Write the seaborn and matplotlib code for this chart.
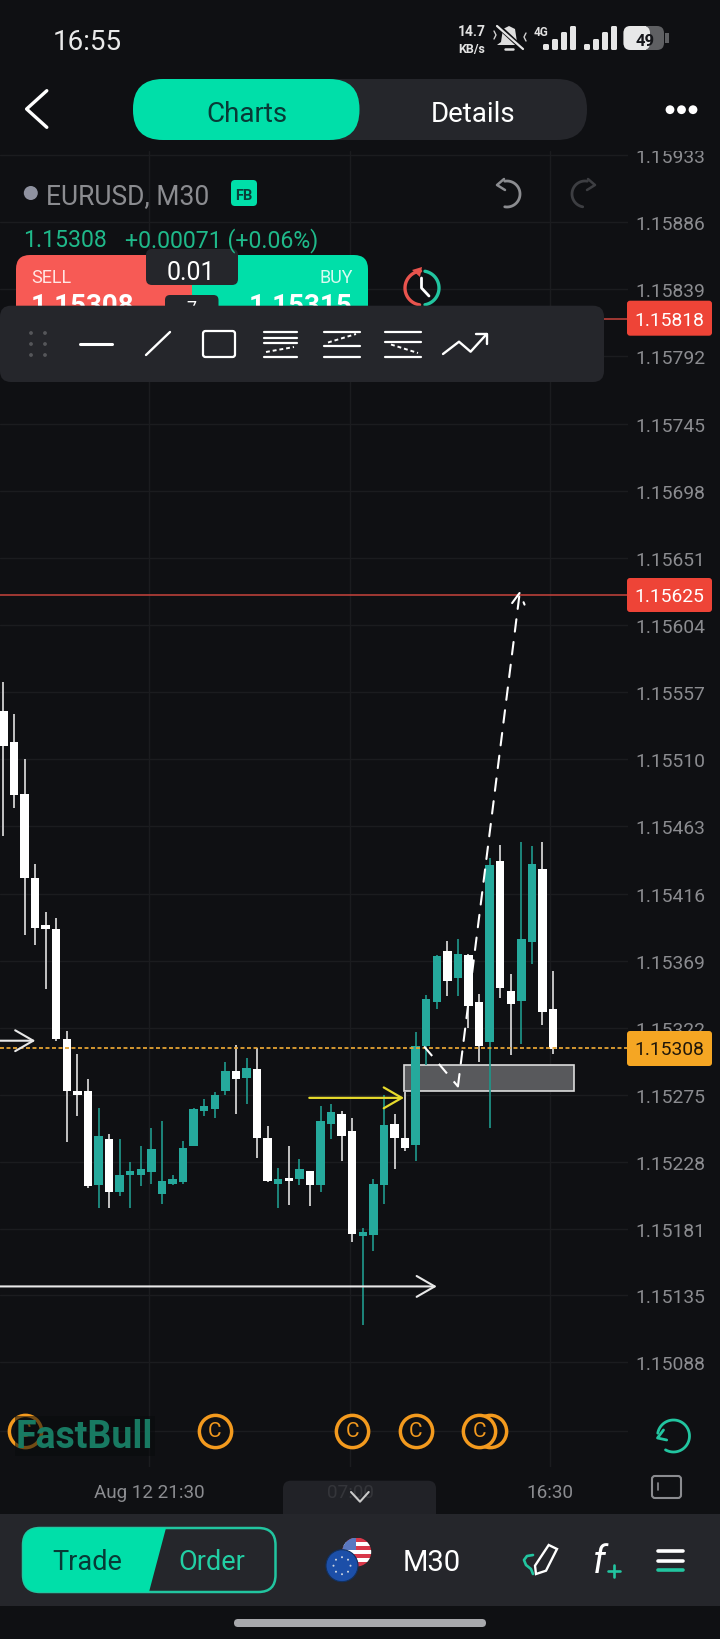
import numpy as np
import pandas as pd
import seaborn as sns
import matplotlib
matplotlib.use("Agg")
import matplotlib.pyplot as plt
from matplotlib.patches import FancyBboxPatch, Polygon, Rectangle, Circle

# candles, oldest first
highs = [1.15564,1.15542,1.15510,1.15437,1.15403,1.15399,1.15320,1.15304,1.15286,1.15266,
         1.15248,1.15244,1.15228,1.15239,1.15252,1.15257,1.15219,1.15243,1.15266,1.15272,
         1.15277,1.15298,1.15310,1.15301,1.15308,1.15253,1.15224,1.15239,1.15230,1.15222,
         1.15267,1.15269,1.15264,1.15259,1.15182,1.15216,1.15275,1.15262,1.15277,1.15319,
         1.15345,1.15373,1.15383,1.15384,1.15374,1.15346,1.15441,1.15450,1.15360,1.15452,
         1.15449,1.15452,1.15362]
lows = [1.15456,1.15476,1.15387,1.15380,1.15349,1.15313,1.15242,1.15260,1.15210,1.15196,
        1.15196,1.15204,1.15196,1.15211,1.15213,1.15199,1.15212,1.15213,1.15239,1.15260,
        1.15259,1.15275,1.15262,1.15269,1.15231,1.15214,1.15196,1.15198,1.15212,1.15197,
        1.15207,1.15244,1.15229,1.15172,1.15114,1.15166,1.15199,1.15223,1.15236,1.15229,
        1.15296,1.15335,1.15344,1.15344,1.15322,1.15298,1.15252,1.15343,1.15303,1.15311,
        1.15367,1.15324,1.15304]
opens = [1.15544,1.15522,1.15486,1.15427,1.15394,1.15391,1.15314,1.15278,1.15278,1.15212,
         1.15244,1.15207,1.15219,1.15219,1.15221,1.15206,1.15213,1.15214,1.15239,1.15264,
         1.15265,1.15278,1.15292,1.15287,1.15293,1.15245,1.15213,1.15217,1.15216,1.15222,
         1.15212,1.15255,1.15262,1.15250,1.15176,1.15177,1.15212,1.15255,1.15245,1.15240,
         1.15309,1.15340,1.15376,1.15357,1.15373,1.15340,1.15312,1.15439,1.15348,1.15341,
         1.15382,1.15433,1.15335]
closes = [1.15519,1.15485,1.15427,1.15392,1.15391,1.15314,1.15278,1.15275,1.15211,1.15246,
          1.15207,1.15219,1.15222,1.15223,1.15237,1.15215,1.15216,1.15238,1.15265,1.15267,
          1.15275,1.15292,1.15286,1.15294,1.15245,1.15215,1.15216,1.15215,1.15223,1.15212,
          1.15257,1.15263,1.15246,1.15178,1.15179,1.15213,1.15254,1.15245,1.15238,1.15309,
          1.15342,1.15372,1.15355,1.15374,1.15337,1.15309,1.15436,1.15350,1.15339,1.15384,
          1.15437,1.15333,1.15307]

price_ticks = [1.15933,1.15886,1.15839,1.15792,1.15745,1.15698,1.15651,1.15604,1.15557,1.15510,
               1.15463,1.15416,1.15369,1.15322,1.15275,1.15228,1.15181,1.15135,1.15088,1.15040]
price_labels = ["1.15933","1.15886","1.15839","1.15792","1.15745","1.15698","1.15651","1.15604",
                "1.15557","1.15510","1.15463","1.15416","1.15369","1.15322","1.15275","1.15228",
                "1.15181","1.15135","1.15088",""]
time_ticks = [13.78, 32.82, 51.74]
time_labels = ["Aug 12 21:30", "07:00", "16:30"]

last_price = 1.15308
ask_price = 1.15818
level_price = 1.15625
zone_low = 1.15278
zone_high = 1.15296
zone_start = 37.92
zone_end = 54.0
events = [2, 20, 33, 39, 45, 46]
event_price = 1.15040

BG = "#0f1013"
PANEL = "#25262b"
GREEN = "#00dfa9"
DARKGREEN = "#083a36"
TEAL = "#25a99c"
TEALWICK = "#1f9488"
RED = "#f75a55"
TAG = "#ee4437"
ORANGE = "#f39a1e"
GREY = "#8b8c90"
GRID = "#1b1c1f"

sns.set_theme(style="dark", rc={"axes.facecolor": BG, "figure.facecolor": BG,
                                "axes.grid": True, "grid.color": GRID, "grid.linewidth": 1.0,
                                "xtick.color": GREY, "ytick.color": GREY})
plt.rcParams["font.family"] = ["Roboto", "DejaVu Sans"]

W, H = 720, 1640
fig = plt.figure(figsize=(W / 100, H / 100), dpi=100)

# chart area runs from y=152 to y=1468 in the picture, x=0 to x=628
ax = fig.add_axes([0, 1 - 1468 / H, 628 / W, (1468 - 152) / H])

df = pd.DataFrame({"i": range(len(opens)), "open": opens, "high": highs, "low": lows, "close": closes})
df["top"] = df[["open", "close"]].max(axis=1)
df["bot"] = df[["open", "close"]].min(axis=1)
df["body"] = df["top"] - df["bot"]
up = df[df["close"] > df["open"]]
down = df[df["close"] <= df["open"]]

ax.vlines(up["i"], up["low"], up["high"], color=TEALWICK, lw=1.25, zorder=2.5)
ax.vlines(down["i"], down["low"], down["high"], color="#d9d9d9", lw=1.25, zorder=2.5)
sns.barplot(data=up, x="i", y="body", bottom=up["bot"].values, native_scale=True, color=TEAL,
            saturation=1, errorbar=None, width=0.8, linewidth=0, zorder=3, ax=ax)
sns.barplot(data=down, x="i", y="body", bottom=down["bot"].values, native_scale=True, color="white",
            saturation=1, errorbar=None, width=0.8, linewidth=0, zorder=3, ax=ax)

ax.set_xlim(-0.322, 59.09)
ax.set_ylim(1.150146, 1.159358)
ax.set_xlabel("")
ax.set_ylabel("")
ax.yaxis.tick_right()
ax.set_yticks(price_ticks)
ax.set_yticklabels(price_labels, fontsize=13.9)
ax.set_xticks(time_ticks)
ax.set_xticklabels(time_labels, fontsize=13.6)
ax.tick_params(axis="y", length=0, pad=5)
ax.tick_params(axis="x", length=0, pad=11.5)
ax.grid(True, color=GRID, lw=1.0)
ax.set_axisbelow(True)
sns.despine(ax=ax, left=True, right=True, top=True, bottom=True)

# levels, zone and drawings
ax.axhline(level_price, color="#c8433c", lw=1.1, zorder=2)
ax.axhline(ask_price, color="#c8433c", lw=1.1, zorder=2)
ax.axhline(last_price, color="#e3a233", lw=1.3, ls=(0, (2.2, 1.4)), zorder=4)
ax.add_patch(Rectangle((zone_start, zone_low), zone_end - zone_start, zone_high - zone_low,
                       facecolor="#58595c", edgecolor="#dcdcdc", lw=1.2, zorder=2))


def arrow(x0, y0, x1, y1, color, lw, hl, hw, ls="-"):
    ax.annotate("", xy=(x1, y1), xytext=(x0, y0), zorder=5,
                arrowprops=dict(arrowstyle="->,head_length=%s,head_width=%s" % (hl, hw), color=color,
                                lw=lw, ls=ls, shrinkA=0, shrinkB=0, mutation_scale=1))


arrow(-0.32, 1.15141, 41.0, 1.15141, "#e8e8e8", 1.5, 13, 7.5)
arrow(-0.32, 1.15313, 3.02, 1.15313, "#e8e8e8", 1.5, 13, 7.5)
arrow(28.94, 1.15273, 37.9, 1.15273, "#e6da2c", 1.6, 13, 7.5)
ax.plot([39.8, 43.0], [1.15309, 1.15281], color="white", lw=1.5, ls=(0, (6, 5)), zorder=5)
arrow(43.0, 1.15281, 48.87, 1.15628, "white", 1.5, 8, 4.5, ls=(0, (6, 5)))

# economic calendar markers, earlier ones sit on top of later ones
for n, e in enumerate(reversed(events)):
    sns.scatterplot(x=[e], y=[event_price], s=540, facecolor=BG, edgecolor=ORANGE,
                    linewidth=2.5, zorder=4 + n * 0.1, legend=False, ax=ax)
    ax.text(e, event_price, "C", color=ORANGE, fontsize=15, ha="center", va="center", zorder=4.05 + n * 0.1)
ax.set_xlim(-0.322, 59.09)
ax.set_ylim(1.150146, 1.159358)
ax.text(1.2, 1.15036, "FastBull", color="#187a62", fontsize=27, fontweight="bold", va="center",
        zorder=6, bbox=dict(facecolor="#090b0d", edgecolor="none", pad=1, alpha=0.55))

# app interface on top, in picture pixels
ui = fig.add_axes([0, 0, 1, 1], facecolor="none")
ui.set_xlim(0, W)
ui.set_ylim(H, 0)
ui.axis("off")


def box(x0, y0, x1, y1, r, color, z=1, ec="none", lw=0):
    ui.add_patch(FancyBboxPatch((x0 + r, y0 + r), x1 - x0 - 2 * r, y1 - y0 - 2 * r,
                                boxstyle="round,pad=%s,rounding_size=%s" % (r, r),
                                facecolor=color, edgecolor=ec, lw=lw, zorder=z))


def rect(x0, y0, x1, y1, color, z=1):
    ui.add_patch(Rectangle((x0, y0), x1 - x0, y1 - y0, facecolor=color, edgecolor="none", zorder=z))


def line(xs, ys, color="white", lw=1.8, z=7, **kw):
    ui.plot(xs, ys, color=color, lw=lw, zorder=z, solid_capstyle="round", **kw)


def arc(cx, cy, r, t0, t1, color, lw=2, z=7):
    t = np.radians(np.linspace(t0, t1, 50))
    line(cx + r * np.cos(t), cy - r * np.sin(t), color, lw, z)


def label(x, y, s, color="white", size=14, ha="center", z=8, **kw):
    ui.text(x, y, s, color=color, fontsize=size, ha=ha, va="center_baseline", zorder=z, **kw)


# top cover and status bar
rect(0, 0, W, 152, BG, 0.5)
label(53, 40, "16:55", "#e9e9e9", 20, ha="left")
label(472, 31, "14.7", "#e2e2e2", 10, fontweight="bold")
label(472, 48, "KB/s", "#e2e2e2", 9, fontweight="bold")
ui.add_patch(Polygon([(509, 27), (515, 30), (517, 43), (521, 46), (497, 46), (501, 43), (503, 30)],
                     facecolor="#dedede", edgecolor="none", zorder=7))
line([505, 513], [50, 50], "#dedede", 1.8)
line([497, 524], [26, 51], BG, 3.4)
line([497, 523], [27, 50], "#e6e6e6", 1.6)
line([494, 496, 494], [32, 36, 40], "#cfcfcf", 1)
line([526, 524, 526], [34, 38, 42], "#cfcfcf", 1)
label(541, 31, "4G", "#e2e2e2", 8.5, fontweight="bold")
for x0 in [543, 584]:
    for j, top in enumerate([45, 40, 33, 27]):
        box(x0 + j * 9, top, x0 + j * 9 + 6, 51, 1.5, "#e6e6e6", 7)
box(623.5, 27, 664, 51, 7, "#5f6063", 6)
box(623.5, 27, 650, 51, 7, "#e8e8e8", 6)
rect(640, 27, 646, 51, "#e8e8e8", 6)
rect(665, 34, 669, 44, "#5f6063", 6)
label(645, 40, "49", "#15161a", 12, fontweight="bold")

# back, tabs, more
line([46.8, 26.6, 46.8], [91.7, 110, 128.3], "white", 2.4)
box(133, 80, 587, 141, 30, PANEL, 2)
box(133, 80, 359.5, 141, 30, GREEN, 3)
label(246.6, 111, "Charts", DARKGREEN, 20)
label(473, 111, "Details", "white", 20)
for x0 in [670, 681.5, 693]:
    ui.add_patch(Circle((x0, 110.7), 4.4, facecolor="white", edgecolor="none", zorder=7))

# symbol row
ui.add_patch(Circle((30.8, 194), 7, facecolor="#8f92a0", edgecolor="none", zorder=7))
label(46, 194, "EURUSD, M30", GREY, 19.1, ha="left")
box(231, 181, 257, 207, 4, GREEN, 6)
label(244, 194, "FB", "#0a3d38", 10.5, fontweight="bold")
arc(507, 195, 13, 100, -100, GREY)
line([504, 497, 505], [180, 186, 191], GREY)
arc(585, 195, 13, 80, 260, "#3d3e42")
line([588, 595, 587], [180, 186, 191], "#3d3e42")
label(23.5, 238, "1.15308", "#1fb98a", 16.6, ha="left")
label(125, 238, "+0.00071 (+0.06%)", "#1fb98a", 16.7, ha="left")

# sell and buy panel, cut by the toolbar
box(16, 256, 200, 330, 14, RED, 2)
box(185, 256, 368, 330, 14, GREEN, 2)
rect(185, 256, 191.5, 330, RED, 2)
label(31, 276, "SELL", "#ffe6e4", 13, ha="left", z=2.5)
label(352.6, 276, "BUY", "#d8fbf1", 13, ha="right", z=2.5)
label(31, 303, "1.15308", "white", 20, ha="left", fontweight="bold", z=2.5)
label(352.6, 303, "1.15315", "white", 20, ha="right", fontweight="bold", z=2.5)
box(146, 250, 238, 286, 6, PANEL, 3)
label(191, 270, "0.01", "white", 18, z=3.5)
box(165, 296, 218.5, 330, 5, PANEL, 3)
label(191.5, 307, "7", "white", 13, z=3.5)
arc(422, 289, 17, 95, 262, "#e9544e", 2.4, z=4)
arc(422, 289, 17, 80, -80, "#22c5a0", 2.4, z=4)
ui.add_patch(Polygon([(412, 271), (422, 268), (420, 278)], facecolor="#e9544e", edgecolor="none", zorder=4))
line([421.5, 421.5, 429], [279, 289, 297], "white", 2, z=4)

# drawing toolbar
box(0, 306.7, 604, 383, 11, PANEL, 5)
for x0 in [31, 45]:
    for y0 in [334, 345, 356]:
        ui.add_patch(Circle((x0, y0), 1.9, facecolor="#55565a", edgecolor="none", zorder=7))
line([80, 111.6], [345, 345], "white", 2.2)
line([146, 170], [356, 333], "white", 1.7)
box(203, 332, 235, 358, 2.5, "none", 7, ec="white", lw=1.6)
for y0 in [333, 338.5, 344, 357.5]:
    line([264, 296.6], [y0, y0], "white", 1.6)
line([266, 294], [353, 348], "white", 1.4, ls=(0, (2, 1.5)))
for y0 in [332.7, 346.5, 357.5]:
    line([324, 359.5], [y0, y0], "white", 1.6)
line([328, 356], [343.5, 335], "white", 1.4, ls=(0, (2, 1.5)))
for y0 in [332.7, 343, 357.5]:
    line([385, 421], [y0, y0], "white", 1.6)
line([391, 418], [345.5, 354], "white", 1.4, ls=(0, (2, 1.5)))
line([443, 459, 470.6, 486.7], [355, 342.7, 352.7, 335], "white", 1.7)
line([476, 486.7, 486.7], [335, 335, 345], "white", 1.7)

# price tags
box(627, 301.7, 712, 336.7, 3, TAG, 5)
label(669.5, 319, "1.15818", "white", 13.9)
box(627, 579, 712, 613, 3, TAG, 5)
label(669.5, 595, "1.15625", "white", 13.9)
box(627, 1032, 712, 1067, 3, "#f5a623", 5)
label(669.5, 1048.5, "1.15308", "#20170a", 13.9)

# right side icons
arc(673.5, 1437, 16, 170, -120, "#22c5a0", 2)
line([663.5, 657.5, 666.7], [1431, 1439, 1441], "#22c5a0", 2)
box(652, 1477, 681, 1499, 3, "none", 5, ec=GREY, lw=1.5)
line([657.5, 657.5], [1484, 1491], GREY, 1.2)

# pull up tab
box(283, 1481.7, 436, 1530, 8, "#25262bd9", 4)
line([351, 360, 368.7], [1493, 1502.7, 1493], "#c9c9c9", 1.5)

# bottom bar
rect(0, 1515, W, 1607, PANEL, 4.5)
rect(0, 1607, W, H, BG, 4.5)
box(234, 1620, 486, 1628, 4, "#a8a9ad", 5)

box(23, 1529, 275.5, 1593, 17, PANEL, 5, ec="#22c5a0", lw=1.8)
clip = FancyBboxPatch((40, 1546), 218.5, 30, boxstyle="round,pad=17,rounding_size=17", transform=ui.transData)
fill = Polygon([(23, 1529), (166, 1529), (149, 1593), (23, 1593)], facecolor=GREEN, edgecolor="none", zorder=6)
ui.add_patch(fill)
fill.set_clip_path(clip)
label(87, 1560, "Trade", DARKGREEN, 19.5)
label(212, 1560, "Order", "#22cfa4", 19.5)

# pair flags
us = Circle((356.7, 1553), 14.5, transform=ui.transData)
for j in range(7):
    r_ = Rectangle((342, 1538.5 + j * 4.15), 30, 4.15, facecolor="#d8384a" if j % 2 == 0 else "white",
                   edgecolor="none", zorder=6)
    ui.add_patch(r_)
    r_.set_clip_path(us)
canton = Rectangle((342, 1538.5), 14, 12, facecolor="#5a78c0", edgecolor="none", zorder=6.1)
ui.add_patch(canton)
canton.set_clip_path(us)
ui.add_patch(Circle((342, 1566.7), 16, facecolor="#1c4fa8", edgecolor="#12305f", lw=0.8, zorder=6.5))
for a in range(0, 360, 45):
    ui.add_patch(Circle((342 + 8.5 * np.cos(np.radians(a)), 1566.7 + 8.5 * np.sin(np.radians(a))), 1,
                        facecolor="#cfd6e0", edgecolor="none", zorder=7))
label(432, 1560, "M30", "white", 21)

# bottom right tools
line([533, 527, 524, 526, 531, 533], [1556, 1557, 1561, 1566, 1570, 1575], "#22c5a0", 1.9)
ui.add_patch(Polygon([(548.7, 1546), (557, 1550), (546, 1571.7), (536, 1575), (535, 1566.7)],
                     facecolor="none", edgecolor="white", lw=1.7, zorder=7))
label(599, 1559, "f", "white", 27, style="italic")
line([608, 620], [1572, 1572], "#22c5a0", 1.9)
line([614, 614], [1566, 1578], "#22c5a0", 1.9)
line([657.5, 683], [1551.7, 1551.7], "white", 2.6)
line([657.5, 683], [1561.7, 1561.7], "white", 2.6)
line([657.5, 683], [1571, 1571], "#22c5a0", 2.6)

fig.savefig("out.png", dpi=100, facecolor=BG)
